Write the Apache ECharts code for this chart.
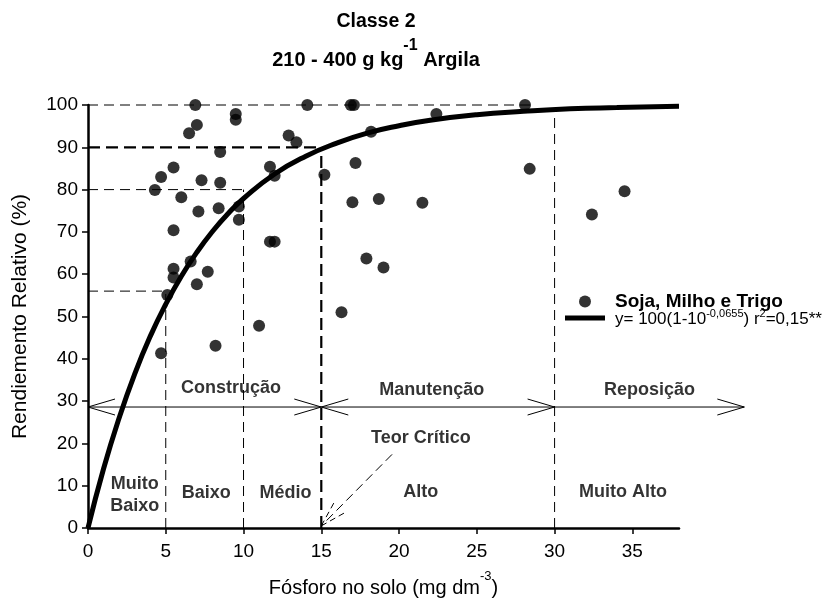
<!DOCTYPE html>
<html>
<head>
<meta charset="utf-8">
<script src="https://cdn.jsdelivr.net/npm/echarts@6/dist/echarts.min.js"></script>
<style>html,body{margin:0;padding:0;background:#fff}#c{width:823px;height:603px}</style>
</head>
<body>
<div id="c"></div>
<script>
// ---------- data ----------
const xTicks = [0, 5, 10, 15, 20, 25, 30, 35];
const yTicks = [0, 10, 20, 30, 40, 50, 60, 70, 80, 90, 100];

// observed points (Fósforo no solo, Rendimento relativo)
const fosforo = [6.9, 9.5, 9.5, 14.1, 7.0, 6.5, 12.9, 13.4, 8.5, 5.5, 4.7, 11.7, 12.0, 15.2, 7.3, 8.5, 4.3, 6.0, 7.1, 8.4,
  9.7, 9.7, 5.5, 11.7, 12.0, 6.6, 7.7, 5.5, 5.5, 7.0, 5.1, 16.3, 11.0, 8.2, 4.7, 16.9, 17.1, 28.1, 22.4, 18.2,
  17.2, 28.4, 17.0, 18.7, 21.5, 32.4, 17.9, 19.0, 34.5];
const rendimento = [100, 97.9, 96.5, 100, 95.3, 93.3, 92.8, 91.2, 88.9, 85.2, 83.0, 85.4, 83.3, 83.5, 82.2, 81.6, 79.9, 78.2, 74.8, 75.6,
  76.0, 72.9, 70.4, 67.7, 67.7, 63.0, 60.6, 61.3, 59.2, 57.6, 55.1, 51.0, 47.8, 43.1, 41.3, 100, 100, 100, 97.9, 93.7,
  86.3, 84.9, 77.0, 77.8, 76.9, 74.1, 63.7, 61.6, 79.6];

// fitted curve
const curveX = [0, 1, 2, 3, 4, 5, 6, 7, 8, 9, 10, 12, 14, 16, 18, 20, 22, 25, 28, 31, 34, 38];
const curveY = [0, 14.0, 26.0, 36.4, 45.3, 52.9, 59.5, 65.2, 70.1, 74.3, 77.9, 83.7, 87.9, 91.0, 93.4, 95.1, 96.4, 97.7, 98.5, 99.1, 99.4, 99.7];

// dashed guide lines [x1, y1, x2, y2]
const guidesThin = [[0, 100, 28.5, 100], [0, 80, 10, 80], [0, 56, 5, 56], [5, 0, 5, 56], [10, 0, 10, 80], [30, 0, 30, 98.9]];
const guidesThick = [[0, 90, 15, 90], [15, 0, 15, 90]];

// class arrows [xStart, xEnd, y, heads(1=start,2=end,3=both)]
const classArrows = [[0, 15, 28.6, 3], [15, 30, 28.6, 3], [30, 42.2, 28.6, 2]];
// "Teor Crítico" pointer [xFrom, yFrom, xTo, yTo]
const teorArrow = [[19.55, 17.4, 15, 0.5]];

// text annotations
const noteText = ['Construção', 'Manutenção', 'Reposição', 'Muito\nBaixo', 'Baixo', 'Médio', 'Alto', 'Muito Alto', 'Teor Crítico'];
const noteX = [9.2, 22.1, 36.1, 3.0, 7.6, 12.7, 21.4, 34.4, 21.4];
const noteY = [33.2, 32.7, 32.7, 7.7, 8.2, 8.2, 8.5, 8.5, 21.2];

const scatterName = 'Soja, Milho e Trigo';
const fitName = 'y= 100(1-10^-0,0655) r2=0,15**';

// ---------- chart ----------
const FONT = '"Liberation Sans", Arial, Helvetica, sans-serif';
const chart = echarts.init(document.getElementById('c'), null, {renderer: 'canvas'});

function segRender(width, dash) {
  return function (params, api) {
    const a = api.coord([api.value(0), api.value(1)]);
    const b = api.coord([api.value(2), api.value(3)]);
    return {type: 'line', shape: {x1: a[0], y1: a[1], x2: b[0], y2: b[1]},
      style: {stroke: '#000', lineWidth: width, lineDash: dash, fill: null}};
  };
}

function arrowRender(params, api) {
  const a = api.coord([api.value(0), api.value(2)]);
  const b = api.coord([api.value(1), api.value(2)]);
  const heads = api.value(3);
  const L = 27, H = 8;
  const st = {stroke: '#000', lineWidth: 1, fill: null};
  const ch = [{type: 'line', shape: {x1: a[0], y1: a[1], x2: b[0], y2: b[1]}, style: st}];
  if (heads === 1 || heads === 3) ch.push({type: 'polyline', shape: {points: [[a[0] + L, a[1] - H], [a[0], a[1]], [a[0] + L, a[1] + H]]}, style: st});
  if (heads === 2 || heads === 3) ch.push({type: 'polyline', shape: {points: [[b[0] - L, b[1] - H], [b[0], b[1]], [b[0] - L, b[1] + H]]}, style: st});
  return {type: 'group', children: ch};
}

function teorRender(params, api) {
  const a = api.coord([api.value(0), api.value(1)]);
  const b = api.coord([api.value(2), api.value(3)]);
  const ang = Math.atan2(a[1] - b[1], a[0] - b[0]);
  const L = 30, spread = 16 * Math.PI / 180;
  const st = {stroke: '#000', lineWidth: 1, lineDash: [9, 5], fill: null};
  const ch = [{type: 'line', shape: {x1: a[0], y1: a[1], x2: b[0], y2: b[1]}, style: st}];
  [-spread, spread].forEach(function (s) {
    ch.push({type: 'line', shape: {x1: b[0], y1: b[1], x2: b[0] + L * Math.cos(ang + s), y2: b[1] + L * Math.sin(ang + s)},
      style: {stroke: '#000', lineWidth: 1, lineDash: [6, 4], fill: null}});
  });
  return {type: 'group', children: ch};
}

const option = {
  animation: false,
  backgroundColor: '#fff',
  grid: {left: 88, right: 144, top: 105, bottom: 73},
  graphic: [
    {type: 'text', x: 376, y: 22, style: {text: 'Classe 2', fontSize: 19.5, fontWeight: 'bold', fontFamily: FONT, fill: '#000', align: 'center', verticalAlign: 'middle'}},
    {type: 'text', x: 376, y: 54, style: {text: '{b|210 - 400 g kg}{s|-1}{b| Argila}', align: 'center', verticalAlign: 'middle', fill: '#000',
      rich: {b: {fontSize: 20, fontWeight: 'bold', fontFamily: FONT, lineHeight: 32, verticalAlign: 'bottom'},
             s: {fontSize: 16, fontWeight: 'bold', fontFamily: FONT, lineHeight: 17, verticalAlign: 'top'}}}}
  ],
  legend: [
    {data: [{name: scatterName, icon: 'circle'}], left: 574, top: 287, itemWidth: 40, itemHeight: 12, selectedMode: false,
      textStyle: {fontSize: 19, fontWeight: 'bold', fontFamily: FONT, color: '#000', padding: [0, 0, 0, 5]}},
    {data: [{name: fitName, icon: 'rect'}], left: 560, top: 303, itemWidth: 40, itemHeight: 5, selectedMode: false,
      formatter: function () { return '{r|y= 100(1-10}{s|-0,0655}{r|) r}{s|2}{r|=0,15**}'; },
      textStyle: {color: '#000', padding: [0, 0, 0, 5],
        rich: {r: {fontSize: 17, fontFamily: FONT, color: '#000', lineHeight: 20, verticalAlign: 'bottom'},
               s: {fontSize: 11, fontFamily: FONT, color: '#000', lineHeight: 12, verticalAlign: 'top'}}}}
  ],
  xAxis: {
    type: 'value', min: 0, max: 38, interval: 5,
    name: '{n|Fósforo no solo (mg dm}{s|-3}{n|)}', nameLocation: 'middle', nameGap: 42,
    nameTextStyle: {rich: {n: {fontSize: 20, fontFamily: FONT, color: '#000', lineHeight: 28, verticalAlign: 'bottom'},
                           s: {fontSize: 13, fontFamily: FONT, color: '#000', lineHeight: 14, verticalAlign: 'top'}}},
    axisLine: {show: true, onZero: false, lineStyle: {color: '#000', width: 2.5}},
    axisTick: {show: true, length: 6, customValues: xTicks, lineStyle: {color: '#000', width: 1.5}},
    axisLabel: {customValues: xTicks, fontSize: 19, fontFamily: FONT, color: '#000', margin: 14,
      formatter: function (v) { return xTicks.indexOf(v) >= 0 ? String(v) : ''; }},
    splitLine: {show: false}
  },
  yAxis: {
    type: 'value', min: 0, max: 100, interval: 10,
    name: 'Rendiemento Relativo (%)', nameLocation: 'middle', nameGap: 57,
    nameTextStyle: {fontSize: 21, fontFamily: FONT, color: '#000'},
    axisLine: {show: true, onZero: false, lineStyle: {color: '#000', width: 2.5}},
    axisTick: {show: true, length: 6, customValues: yTicks, lineStyle: {color: '#000', width: 1.5}},
    axisLabel: {customValues: yTicks, fontSize: 19, fontFamily: FONT, color: '#000', margin: 10},
    splitLine: {show: false}
  },
  series: [
    {type: 'custom', renderItem: segRender(1, [10, 6]), data: guidesThin, encode: {x: [0, 2], y: [1, 3]}, silent: true, z: 1},
    {type: 'custom', renderItem: segRender(2.2, [12, 6]), data: guidesThick, encode: {x: [0, 2], y: [1, 3]}, silent: true, z: 1},
    {type: 'custom', renderItem: arrowRender, data: classArrows, encode: {x: [0, 1], y: 2}, silent: true, clip: false, z: 2},
    {type: 'custom', renderItem: teorRender, data: teorArrow, encode: {x: [0, 2], y: [1, 3]}, silent: true, clip: false, z: 2},
    {type: 'line', name: fitName, data: curveX.map(function (x, i) { return [x, curveY[i]]; }), smooth: true, showSymbol: false, symbol: 'none',
      lineStyle: {color: '#000', width: 5}, itemStyle: {color: '#000'}, z: 3, clip: false},
    {type: 'scatter', name: scatterName, data: fosforo.map(function (x, i) { return [x, rendimento[i]]; }), symbol: 'circle', symbolSize: 12,
      itemStyle: {color: '#000'}, clip: false, z: 4},
    {type: 'scatter', data: noteX.map(function (x, i) { return [x, noteY[i], noteText[i]]; }), symbolSize: 1,
      itemStyle: {color: 'rgba(0,0,0,0)'}, silent: true, clip: false, z: 5,
      label: {show: true, position: 'inside', formatter: function (p) { return p.value[2]; },
        fontSize: 18, fontWeight: 'bold', fontFamily: FONT, color: '#000', lineHeight: 22, align: 'center'}}
  ]
};
chart.setOption(option);
</script>
</body>
</html>
